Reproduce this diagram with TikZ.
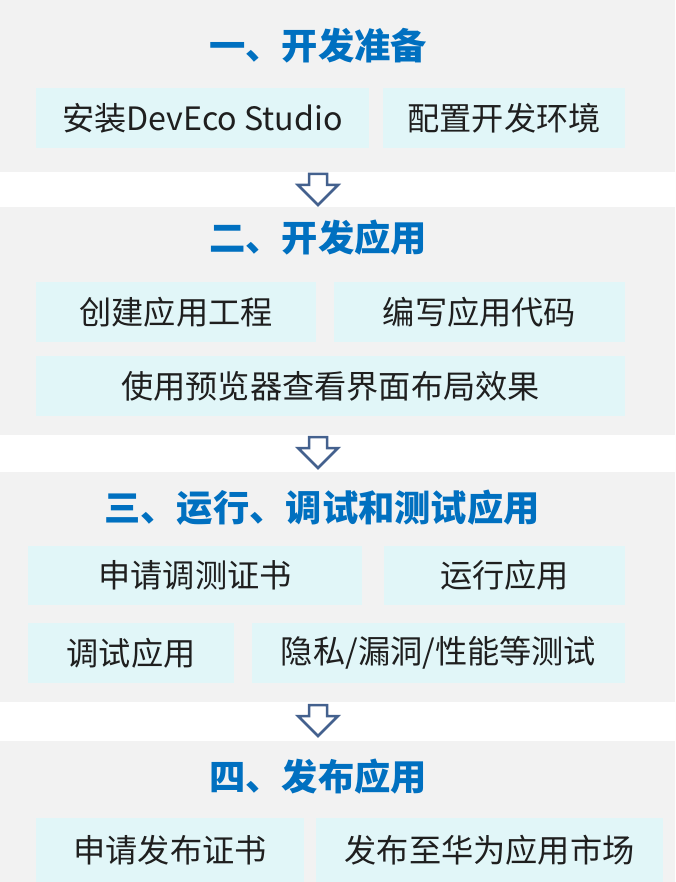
\documentclass[tikz,border=0pt]{standalone}
\usepackage{fontspec}
\setmainfont{Noto Sans CJK SC}
\definecolor{bandgray}{HTML}{F2F2F2}
\definecolor{cellcyan}{HTML}{E1F6F8}
\definecolor{titleblue}{HTML}{0070C0}
\definecolor{arrowblue}{HTML}{44618E}
\tikzset{
    band/.style={fill=bandgray, inner sep=0pt, minimum width=675pt},
    cell/.style={fill=cellcyan, inner sep=0pt, text=black!88, font=\fontsize{32.2}{36}\selectfont},
    steptitle/.style={inner sep=0pt, text=titleblue, font=\fontsize{36.3}{40}\selectfont\bfseries},
    hollow/.style={draw=arrowblue, fill=white, line width=2.5pt, line join=miter}
}
\begin{document}
\begin{tikzpicture}[x=1pt,y=-1pt]
    \useasboundingbox (0,0) rectangle (675,882);
    % bands
    \node[band, minimum height=172pt] (s1) at (337.5,86) {};
    \node[band, minimum height=228pt] (s2) at (337.5,321) {};
    \node[band, minimum height=230pt] (s3) at (337.5,587) {};
    \node[band, minimum height=141pt] (s4) at (337.5,811.5) {};
    % step 1
    \node[steptitle] (t1) at (318,46) {一、开发准备};
    \node[cell, minimum width=333pt, minimum height=60pt] (c11) at (202.5,118) {安装DevEco Studio};
    \node[cell, minimum width=242pt, minimum height=60pt] (c12) at (504,118) {配置开发环境};
    % step 2
    \node[steptitle] (t2) at (318,238) {二、开发应用};
    \node[cell, minimum width=280pt, minimum height=60pt] (c21) at (176,312) {创建应用工程};
    \node[cell, minimum width=291pt, minimum height=60pt] (c22) at (479.5,312) {编写应用代码};
    \node[cell, minimum width=589pt, minimum height=60pt] (c23) at (330.5,386) {使用预览器查看界面布局效果};
    % step 3
    \node[steptitle] (t3) at (322,508) {三、运行、调试和测试应用};
    \node[cell, minimum width=334pt, minimum height=59pt] (c31) at (195,575.5) {申请调测证书};
    \node[cell, minimum width=241pt, minimum height=59pt] (c32) at (504.5,575.5) {运行应用};
    \node[cell, minimum width=206pt, minimum height=60pt] (c33) at (131,653) {调试应用};
    \node[cell, minimum width=373pt, minimum height=60pt] (c34) at (438.5,653) {隐私/漏洞/性能等测试};
    % step 4
    \node[steptitle] (t4) at (318,777) {四、发布应用};
    \node[cell, minimum width=268pt, minimum height=64pt] (c41) at (170,850) {申请发布证书};
    \node[cell, minimum width=347pt, minimum height=64pt] (c42) at (489.5,850) {发布至华为应用市场};
    % arrows between the bands
    \coordinate (a1) at (318,174);
    \coordinate (a2) at (318,437);
    \coordinate (a3) at (318,705);
    \foreach \a in {a1,a2,a3}
        {
            \draw[hollow] (\a) ++(-9,0) -- ++(18,0) -- ++(0,11) -- ++(11,0) -- ++(-20,20) -- ++(-20,-20) -- ++(11,0) -- cycle;
        }
\end{tikzpicture}
\end{document}
